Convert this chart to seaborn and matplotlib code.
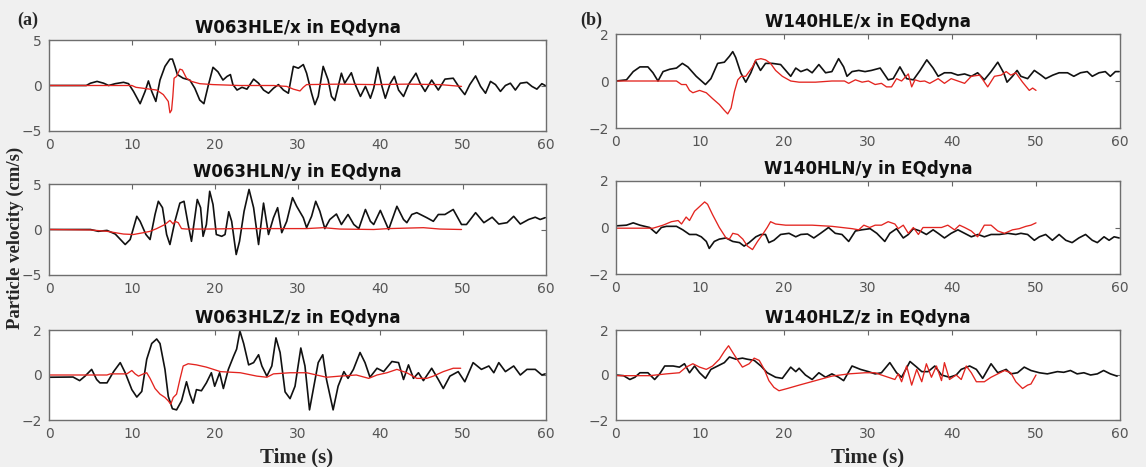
import matplotlib
matplotlib.use("Agg")
import matplotlib.pyplot as plt
import seaborn as sns
import pandas as pd

# ---------------- data (time in s, particle velocity in cm/s) ----------------
titles = ["W063HLE/x in EQdyna", "W063HLN/y in EQdyna", "W063HLZ/z in EQdyna",
          "W140HLE/x in EQdyna", "W140HLN/y in EQdyna", "W140HLZ/z in EQdyna"]
x_ticks = [0, 10, 20, 30, 40, 50, 60]
y_ticks_big = [-5, 0, 5]
y_ticks_small = [-2, 0, 2]

a1_black_t = [0,4.5,5.0,5.8,6.6,7.2,8.0,9.0,9.6,10.2,11.0,11.6,12.0,12.4,12.9,13.4,14.0,14.6,14.9,15.2,15.5,16.2,17.0,17.6,18.2,18.7,19.2,19.8,20.4,21.0,21.5,21.9,22.2,22.7,23.3,23.9,24.7,25.3,25.9,26.5,27.1,27.7,28.3,28.9,29.5,30.1,30.7,31.1,31.7,32.1,32.5,33.1,33.7,34.1,34.5,35.3,35.7,36.5,36.9,37.6,38.2,38.8,39.2,39.7,40.2,40.6,41.2,41.7,42.2,42.8,43.4,44.3,44.8,45.4,46.2,47.0,47.8,48.8,49.6,50.2,50.8,51.5,52.1,52.7,53.3,53.9,54.5,55.1,55.7,56.3,56.9,57.7,58.3,58.9,59.5,59.9]
a1_black_v = [0,0,0.25,0.45,0.25,0,0.2,0.35,0.2,-0.65,-2.0,-0.65,0.5,-0.65,-1.75,0.6,2.1,2.9,2.9,2.1,1.2,0.8,0.6,-0.3,-1.6,-2.0,-0.1,2.0,1.5,0.6,1.0,1.2,0.1,-0.5,-0.2,-0.4,0.7,0.25,-0.5,-0.85,-0.3,0.1,-0.5,-0.85,2.1,1.9,2.3,1.35,-0.85,-2.1,-1.2,2.1,0.6,-1.2,-1.65,1.35,0.25,1.4,0.25,-1.2,-0.1,-1.4,-0.3,2.0,-0.1,-1.4,0.25,1.0,-0.5,-1.2,0.1,1.35,0.25,-0.65,0.6,-0.5,0.7,0.8,-0.3,-1.0,0.1,1.05,-0.1,-0.85,0.45,0.1,-0.65,0,0.25,-0.5,0.25,0.35,-0.1,-0.4,0.2,0]
a1_red_t = [0,10.0,10.5,13.0,13.8,14.4,14.6,14.8,14.95,15.1,15.4,15.8,16.1,16.6,17.2,18.2,19.8,23.0,27.1,28.7,29.5,30.3,30.7,31.1,35.1,39.2,43.2,47.2,49.8]
a1_red_v = [0,0,-0.2,-0.5,-1.0,-1.75,-3.0,-2.7,-1.2,0.8,1.0,1.8,1.7,0.8,0.45,0.2,0.1,0,0,-0.1,-0.4,-0.6,-0.2,0.1,0.15,0.1,0.15,0.1,-0.1]

a2_black_t = [0,5,5.95,7.0,8.0,9.2,9.8,10.6,11.0,11.7,12.2,12.8,13.2,13.7,14.2,14.6,15.2,15.8,16.3,16.8,17.2,17.6,17.9,18.3,18.6,19.0,19.4,19.8,20.2,20.85,21.25,21.7,22.05,22.6,23.0,23.55,24.15,24.7,25.3,25.9,26.5,27.1,27.6,28.1,28.7,29.4,29.9,30.7,31.1,31.7,32.2,32.7,33.3,33.9,34.7,35.3,36.1,36.8,37.4,38.2,38.8,39.2,40.0,41.0,42.0,42.8,43.2,43.8,44.4,45.6,46.4,47.0,47.8,48.8,49.8,50.4,51.5,52.5,53.5,54.3,55.3,56.1,56.9,57.9,58.7,59.3,59.9]
a2_black_v = [0,0,-0.2,-0.1,-0.5,-1.65,-1.1,1.45,0.9,-0.55,-1.1,1.65,3.1,2.4,-0.55,-1.65,0.9,2.9,3.1,0.55,-1.3,1.3,3.3,2.4,-0.75,0.55,4.2,2.75,-0.55,-0.75,-0.55,1.95,0.9,-2.75,-1.3,2.0,4.4,2.4,-1.65,2.9,-0.55,1.3,2.4,-0.35,0.9,3.5,2.55,1.3,0.2,1.45,3.1,2.0,0.1,1.1,1.7,0.55,1.65,0.55,0.1,2.2,0.9,0.55,2.1,0.0,2.55,1.1,0.75,1.65,1.85,1.3,0.9,1.65,1.65,2.2,0.55,0.55,1.85,0.75,1.35,0.6,0.75,1.45,0.6,1.1,1.35,1.1,1.3]
a2_red_t = [0,5,7,9,10.2,11.4,12.2,13.0,14.0,14.6,15.0,15.2,15.6,16.0,16.6,19.0,23.0,31.1,33.1,35.1,39.2,41.0,45.2,47.2,49.8]
a2_red_v = [0,-0.05,-0.2,-0.5,-0.55,-0.35,-0.2,0.1,0.55,1.0,0.6,0.9,0.75,0.1,0.05,0.05,0.1,0.1,0.2,0.05,0,0.1,0.2,0.05,0]

a3_black_t = [0,2.9,3.7,4.35,5.15,5.75,6.15,7.0,7.8,8.6,9.2,10.0,10.6,11.2,11.8,12.4,13.0,13.4,14.0,14.4,14.9,15.4,16.0,16.6,17.0,17.4,17.8,18.4,19.0,19.6,20.0,20.6,21.05,21.65,22.3,22.65,23.05,23.5,24.1,24.7,25.3,25.7,26.3,26.9,27.4,27.9,28.5,29.1,29.7,30.4,30.9,31.45,31.9,32.5,33.05,33.5,34.3,34.9,35.6,36.1,36.75,37.55,38.15,38.75,39.6,40.4,41.4,42.2,42.8,43.4,44.0,44.6,45.2,46.2,47.0,47.6,48.4,49.4,50.2,51.2,52.2,53.1,53.7,54.3,55.1,56.1,56.9,57.7,58.7,59.5,59.9]
a3_black_v = [-0.1,-0.09,-0.25,-0.05,0.25,-0.2,-0.35,-0.35,0.15,0.55,0.1,-0.65,-0.98,-0.73,0.7,1.4,1.6,1.4,0.25,-0.95,-1.5,-1.55,-1.15,-0.3,-0.85,-1.25,-0.65,-0.7,-0.35,0.1,-0.5,0.1,-0.6,0.25,0.85,1.15,1.95,1.4,0.45,0.55,0.9,0.4,-0.05,0.4,1.65,1.0,-0.75,-1.05,-0.5,1.2,0.4,-1.55,-0.65,0.55,0.9,-0.2,-1.55,-0.5,0.15,-0.15,0.25,1.0,0.55,-0.1,0.3,0.15,0.6,0.55,-0.2,0.45,-0.15,0.1,-0.25,0.3,-0.2,-0.6,-0.05,0.15,-0.3,0.55,0.25,0.4,0.1,0.55,0.15,0.4,0,0.25,0.25,0,0.05]
a3_red_t = [0,7,7.4,9.4,10.0,10.4,10.8,11.4,11.8,12.2,12.8,13.4,14.0,14.4,14.7,15.0,15.4,15.8,16.2,16.8,17.8,19.0,20.7,23.1,25.1,26.3,27.1,29.1,31.1,33.5,35.1,37.1,38.6,39.6,40.8,42.0,43.2,44.4,45.6,46.4,47.6,48.8,49.7]
a3_red_v = [0,0,0.05,0.05,0.2,0.05,-0.05,0.05,0.1,-0.15,-0.6,-0.85,-1.0,-1.15,-1.3,-1.0,-0.85,-0.2,0.4,0.5,0.45,0.35,0.15,0.1,-0.05,-0.1,0.05,0.1,0.1,-0.1,-0.05,0,-0.15,0,0.1,0.25,0.1,-0.15,-0.15,-0.05,0.15,0.3,0.3]

b1_black_t = [0,1.25,2.05,2.85,3.8,4.4,5.0,5.6,6.4,7.2,7.9,8.55,9.55,10.65,11.3,12.1,12.9,13.5,13.9,14.25,14.85,15.45,16.05,16.6,17.2,17.8,18.6,19.6,20.2,20.8,21.4,22.0,22.75,23.35,24.15,24.95,25.7,26.5,27.1,27.5,28.1,28.9,29.65,30.4,31.45,32.4,33.0,33.8,34.6,35.4,36.2,37.0,37.75,38.35,39.1,39.9,40.7,41.5,42.3,43.05,43.85,44.65,45.45,46.15,46.55,47.2,47.75,48.2,49.0,49.8,50.6,51.15,52.0,52.75,53.75,54.5,55.3,56.1,56.7,57.5,58.25,58.85,59.45,59.9]
b1_black_v = [0,0.05,0.4,0.6,0.6,0.35,0,0.4,0.5,0.55,0.75,0.6,0.2,-0.15,0.1,0.75,0.8,1.05,1.25,1.0,0.35,-0.05,0.35,0.85,0.45,0.75,0.75,0.7,0.45,0.2,0.55,0.4,0.5,0.35,0.7,0.35,0.4,0.95,0.6,0.2,0.4,0.45,0.4,0.45,0.55,0.05,0.1,0.6,0.1,0.05,0.45,0.9,0.55,0.2,0.35,0.35,0.25,0.3,0.2,0.35,0.05,0.4,0.8,0.35,-0.05,0.2,0.45,0.2,0.1,0.45,0.25,0.1,0.25,0.35,0.35,0.2,0.35,0.4,0.2,0.35,0.4,0.2,0.4,0.4]
b1_red_t = [0,7.2,7.8,8.35,8.75,9.15,9.95,10.75,11.5,12.3,12.9,13.3,13.7,14.1,14.5,14.9,15.45,15.85,16.25,16.65,17.25,17.8,18.4,19.0,19.8,20.8,21.8,23.75,25.7,27.2,27.7,28.5,29.3,30.05,30.85,31.6,32.2,32.8,33.4,34.0,34.8,35.2,35.6,36.2,36.75,37.35,38.35,39.1,39.9,40.7,41.5,42.3,43.3,44.25,45.05,45.85,46.45,47.0,47.6,48.4,49.2,49.6,50.0]
b1_red_v = [0,0,-0.15,-0.15,-0.4,-0.5,-0.4,-0.5,-0.75,-1.0,-1.25,-1.4,-1.15,-0.45,0.05,0.2,0.2,0.4,0.6,0.9,0.95,0.9,0.75,0.45,0.2,0,-0.05,-0.05,0,0,-0.1,0.05,-0.05,0,-0.15,-0.1,-0.25,-0.25,0.1,0,0.3,-0.25,0.05,-0.02,0,-0.1,0.1,-0.1,0.1,0,-0.1,0.2,0.25,-0.25,0.2,0.25,0.4,0.25,0.35,-0.05,-0.4,-0.3,-0.4]

b2_black_t = [0,1.25,2.05,2.85,4.0,4.8,5.4,6.0,7.2,7.95,8.75,9.55,10.15,10.75,11.1,11.7,12.3,13.1,13.9,14.7,15.25,15.85,16.65,17.25,17.8,18.2,18.8,19.6,20.6,21.4,22.0,22.8,23.55,24.35,25.3,26.1,26.9,27.7,28.5,29.25,30.25,31.05,32.0,32.6,33.4,34.2,34.8,35.4,36.2,36.95,37.75,38.35,39.1,39.9,40.7,41.5,42.3,43.1,43.85,44.65,45.65,46.65,47.6,48.2,49.0,49.8,50.4,51.15,51.95,52.75,53.55,54.3,55.1,55.9,56.7,57.3,58.1,58.7,59.3,59.9]
b2_black_v = [0.07,0.1,0.2,0.1,0,-0.25,0,0.05,0.05,-0.1,-0.3,-0.3,-0.4,-0.6,-0.9,-0.6,-0.5,-0.45,-0.6,-0.65,-0.8,-0.65,-0.4,-0.3,-0.3,-0.65,-0.55,-0.3,-0.25,-0.4,-0.3,-0.28,-0.45,-0.25,0,-0.25,-0.3,-0.6,-0.15,-0.1,-0.05,-0.25,-0.6,-0.25,-0.05,-0.45,-0.3,-0.05,-0.15,-0.3,-0.1,-0.25,-0.45,-0.25,-0.1,-0.25,-0.4,-0.3,-0.4,-0.3,-0.3,-0.25,-0.3,-0.25,-0.3,-0.55,-0.4,-0.3,-0.55,-0.3,-0.55,-0.65,-0.45,-0.3,-0.55,-0.65,-0.4,-0.55,-0.4,-0.45]
b2_red_t = [0,4.4,5.6,6.6,7.4,7.8,8.35,8.75,9.35,9.95,10.55,10.9,11.5,12.3,13.1,13.5,13.9,14.5,15.1,15.65,16.25,16.85,17.45,18.0,18.4,19.0,20.2,23.35,25.7,28.1,28.9,29.5,30.2,30.85,31.6,32.4,33.2,33.6,34.2,34.8,35.4,36.0,36.55,37.55,38.75,39.5,40.3,40.9,41.5,42.3,43.05,43.85,44.65,45.45,46.25,47.2,48.0,48.8,49.4,50.0]
b2_red_v = [-0.03,-0.03,0.1,0.25,0.3,0.15,0.45,0.3,0.7,0.9,1.1,1.0,0.55,0,-0.45,-0.5,-0.25,-0.3,-0.5,-0.8,-0.95,-0.6,-0.3,0,0.25,0.15,0.1,0.1,0.05,-0.05,-0.1,0.1,0,0.1,0.1,0.25,0.15,-0.05,0.1,-0.25,0,-0.3,0,0,0,0.1,-0.1,0.1,0,-0.15,-0.4,0.1,0.1,-0.15,-0.25,-0.1,-0.05,0.05,0.1,0.2]

b3_black_t = [0,0.9,1.65,2.25,2.85,3.8,4.6,5.2,5.8,6.8,7.55,8.15,8.75,9.35,9.95,10.65,11.3,12.1,12.9,13.5,14.3,15.05,15.65,16.45,17.25,18.0,19.0,19.8,20.8,21.4,21.8,22.55,23.35,24.15,24.95,25.7,26.5,27.1,28.1,29.1,30.05,30.85,31.6,32.6,33.4,34.0,35.0,35.8,36.4,37.15,37.95,38.75,39.7,40.5,41.1,42.1,42.9,43.65,44.65,45.45,46.45,47.0,47.8,48.6,49.4,50.4,51.35,52.55,53.3,54.1,54.9,55.7,56.5,57.3,58.05,58.85,59.65]
b3_black_v = [0,-0.03,-0.2,-0.1,0.1,0.1,-0.2,0.05,0.4,0.4,0.35,0.5,0.1,0.4,0.1,-0.15,0.25,0.4,0.55,0.8,0.7,0.75,0.7,0.65,0.4,0.1,-0.1,-0.15,0.35,0.15,0.3,0,-0.2,0.1,-0.1,0.05,-0.1,-0.25,0.4,0.25,0.15,0.05,0.1,0.55,0.1,-0.1,0.6,0.35,0.15,0.15,0.4,0,-0.1,0,0.25,0.4,0.25,-0.15,0.5,0.1,0.25,0.05,0.1,0.35,0.2,0.1,0.05,0.15,0.12,0.2,0.05,0.1,0,0.05,0.2,0.05,-0.05]
b3_red_t = [0,4.0,6.0,7.55,8.35,9.15,9.95,10.75,11.5,12.3,12.9,13.4,13.9,14.5,15.05,15.85,16.45,17.05,17.65,18.2,18.8,19.4,20.4,21.8,23.75,25.7,27.7,29.65,30.85,31.6,32.4,33.2,33.6,34.0,34.6,35.2,35.8,36.4,36.95,37.55,38.15,38.75,39.1,39.7,40.5,41.1,41.7,42.3,42.9,43.85,44.65,45.45,46.25,47.0,47.6,48.4,49.0,49.4,50.0]
b3_red_v = [-0.03,-0.03,0.05,0.1,0.35,0.5,0.35,0.25,0.4,0.7,1.05,1.3,1.0,0.65,0.35,0.5,0.75,0.65,0.25,-0.25,-0.55,-0.7,-0.6,-0.45,-0.25,-0.05,0.05,0.1,0.1,0,-0.1,-0.2,0.05,-0.3,0.4,-0.45,0.25,-0.3,0.5,-0.1,0.4,-0.25,0.55,-0.2,0,-0.2,0.4,0.1,-0.3,-0.3,-0.1,0.05,0.2,0.1,-0.3,-0.6,-0.45,-0.4,0]

# ---------------- style ----------------
sns.set_theme(style="white")
plt.rcParams["font.family"] = ["DejaVu Sans"]

W, H = 1146, 467
fig = plt.figure(figsize=(W / 100, H / 100), dpi=100, facecolor="#f0f0f0")


def rect(x0, x1, y0, y1):
    return [x0 / W, 1 - y1 / H, (x1 - x0) / W, (y1 - y0) / H]


panels = [
    (rect(49, 546, 40, 131), a1_black_t, a1_black_v, a1_red_t, a1_red_v, y_ticks_big),
    (rect(49, 546, 184, 275), a2_black_t, a2_black_v, a2_red_t, a2_red_v, y_ticks_big),
    (rect(49, 546, 330, 420), a3_black_t, a3_black_v, a3_red_t, a3_red_v, y_ticks_small),
    (rect(616, 1120, 34, 128), b1_black_t, b1_black_v, b1_red_t, b1_red_v, y_ticks_small),
    (rect(616, 1120, 181, 274), b2_black_t, b2_black_v, b2_red_t, b2_red_v, y_ticks_small),
    (rect(616, 1120, 330, 420), b3_black_t, b3_black_v, b3_red_t, b3_red_v, y_ticks_small),
]

for (pos, bt, bv, rt, rv, yt), title in zip(panels, titles):
    ax = fig.add_axes(pos)
    ax.set_facecolor("white")
    sns.lineplot(data=pd.DataFrame({"t": bt, "v": bv}), x="t", y="v", ax=ax,
                 color="#111111", linewidth=1.2, estimator=None, sort=False)
    sns.lineplot(data=pd.DataFrame({"t": rt, "v": rv}), x="t", y="v", ax=ax,
                 color="#e3241f", linewidth=0.95, estimator=None, sort=False)
    ax.set_xlim(0, 60)
    ax.set_ylim(yt[0], yt[-1])
    ax.set_xticks(x_ticks)
    ax.set_yticks(yt)
    ax.set_xlabel("")
    ax.set_ylabel("")
    ax.set_title(title, fontsize=12, fontweight="bold", pad=5, color="#111111")
    ax.tick_params(direction="in", length=3.5, width=0.8, top=True, right=True,
                   labelsize=10, labelcolor="#555555", color="#666666", pad=5)
    for s in ax.spines.values():
        s.set_color("#6e6e6e")
        s.set_linewidth(1.0)

serif = "Liberation Serif"
fig.text(17 / W, 1 - 20 / H, "(a)", fontsize=13, fontweight="bold", family=serif,
         ha="left", va="center")
fig.text(580 / W, 1 - 20 / H, "(b)", fontsize=13, fontweight="bold", family=serif,
         ha="left", va="center")
fig.text(15 / W, 1 - 238 / H, "Particle velocity (cm/s)", fontsize=13.5, fontweight="bold",
         family=serif, rotation=90, ha="center", va="center")
fig.text(297 / W, 1 - 462 / H, "Time (s)", fontsize=15, fontweight="bold", family=serif,
         ha="center", va="baseline")
fig.text(868 / W, 1 - 462 / H, "Time (s)", fontsize=15, fontweight="bold", family=serif,
         ha="center", va="baseline")

fig.savefig("out.png", dpi=100, facecolor=fig.get_facecolor())
